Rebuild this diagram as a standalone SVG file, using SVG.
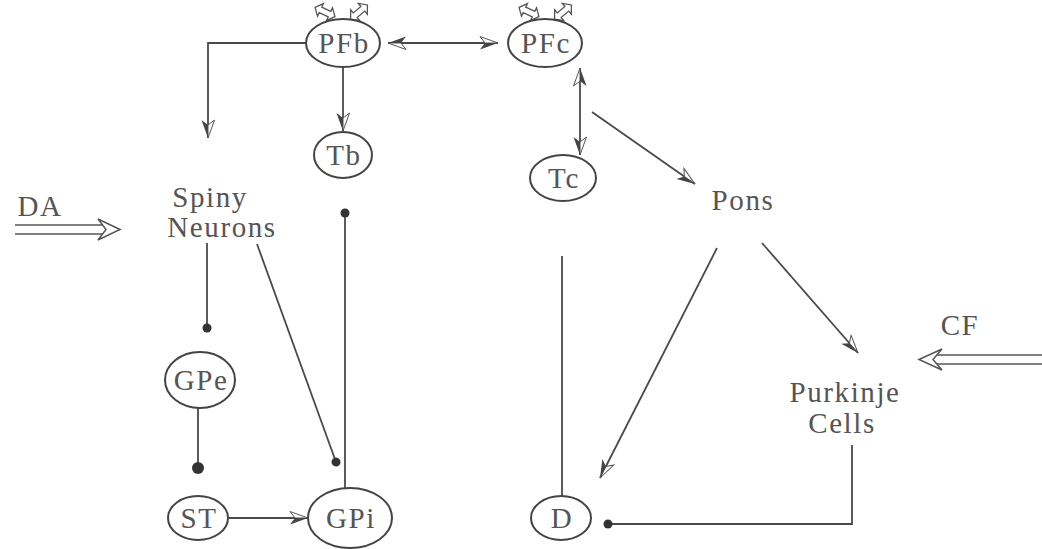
<svg xmlns="http://www.w3.org/2000/svg" width="1042" height="549" viewBox="0 0 1042 549">
<style>
.n{fill:none;stroke:#444;stroke-width:2}
.t{font-family:"Liberation Serif",serif;font-size:29px;letter-spacing:1.6px;fill:#555;text-anchor:middle}
.c{fill:none;stroke:#4a4a4a;stroke-width:1.8}
.a{marker-end:url(#ah)}
.ab{marker-end:url(#ah);marker-start:url(#ahs)}
.d{marker-end:url(#dot)}
.ic{fill:#fff;stroke:#555;stroke-width:1.3}
.dbl{fill:none;stroke:#555;stroke-width:1.6}
</style>
<defs>
<marker id="ah" viewBox="0 0 20 14" refX="19" refY="7" markerWidth="20" markerHeight="14" markerUnits="userSpaceOnUse" orient="auto">
<path d="M19,7 L1,0.5 L6,7 Z" fill="#fff" stroke="#555" stroke-width="1"/>
<path d="M19,7 L6,7 L1,13.5 Z" fill="#444"/>
</marker>
<marker id="ahs" viewBox="0 0 20 14" refX="19" refY="7" markerWidth="20" markerHeight="14" markerUnits="userSpaceOnUse" orient="auto-start-reverse">
<path d="M19,7 L1,0.5 L6,7 Z" fill="#fff" stroke="#555" stroke-width="1"/>
<path d="M19,7 L6,7 L1,13.5 Z" fill="#444"/>
</marker>
<marker id="dot" viewBox="0 0 12 10" refX="6" refY="5" markerWidth="12" markerHeight="10" markerUnits="userSpaceOnUse" orient="auto">
<ellipse cx="6" cy="5" rx="4.5" ry="4.5" fill="#333"/>
</marker>
<marker id="dotL" viewBox="0 0 14 14" refX="7" refY="7" markerWidth="14" markerHeight="14" markerUnits="userSpaceOnUse" orient="auto">
<circle cx="7" cy="7" r="6" fill="#333"/>
</marker>
<polygon id="dh" points="-11,0 -5,-7 -5,-3 5,-3 5,-7 11,0 5,7 5,3 -5,3 -5,7"/>
</defs>

<g id="connectors">
<line class="c ab" x1="388" y1="43" x2="498" y2="43"/>
<polyline class="c a" points="307,43 208,43 208,138"/>
<line class="c a" x1="343" y1="67" x2="343" y2="131"/>
<line class="c ab" x1="580" y1="68" x2="580" y2="155"/>
<line class="c a" x1="592" y1="112" x2="695" y2="184"/>
<line class="c d" x1="207" y1="243" x2="207" y2="328"/>
<line class="c d" x1="257" y1="244" x2="336" y2="462"/>
<line class="c d" x1="345" y1="488" x2="345" y2="213"/>
<line class="c" x1="198" y1="408" x2="198" y2="468" marker-end="url(#dotL)"/>
<line class="c a" x1="228" y1="518" x2="308" y2="518"/>
<line class="c" x1="562" y1="256" x2="562" y2="496"/>
<line class="c a" x1="717" y1="248" x2="600" y2="478"/>
<line class="c a" x1="762" y1="243" x2="858" y2="353"/>
<polyline class="c d" points="852,445 852,524 608,524"/>
<g id="DA-arrow">
<line class="dbl" x1="15" y1="225" x2="110" y2="225"/>
<line class="dbl" x1="15" y1="234" x2="110" y2="234"/>
<path d="M120,229.5 L98,219 L106,229.5 L98,240 Z" fill="#fff" stroke="#555" stroke-width="1.5"/>
</g>
<g id="CF-arrow">
<line class="dbl" x1="1042" y1="355" x2="930" y2="355"/>
<line class="dbl" x1="1042" y1="364" x2="930" y2="364"/>
<path d="M919,359.5 L942,349 L933,359.5 L942,370 Z" fill="#fff" stroke="#555" stroke-width="1.5"/>
</g>
</g>

<g id="PFb">
<use href="#dh" class="ic" transform="translate(325,12) rotate(25)"/>
<use href="#dh" class="ic" transform="translate(359,12) rotate(-40)"/>
<ellipse class="n" cx="343" cy="43" rx="37" ry="24"/>
<text class="t" x="344" y="53">PFb</text>
</g>
<g id="PFc">
<use href="#dh" class="ic" transform="translate(529,12) rotate(25)"/>
<use href="#dh" class="ic" transform="translate(563,12) rotate(-40)"/>
<ellipse class="n" cx="545" cy="43" rx="37" ry="24"/>
<text class="t" x="546" y="53">PFc</text>
</g>
<g id="Tb">
<ellipse class="n" cx="343" cy="155" rx="29" ry="23"/>
<text class="t" x="344" y="165">Tb</text>
</g>
<g id="Tc">
<ellipse class="n" cx="563" cy="178" rx="33" ry="23"/>
<text class="t" x="564" y="188">Tc</text>
</g>
<g id="DA"><text class="t" x="40" y="216">DA</text></g>
<g id="SpinyNeurons">
<text class="t" x="210" y="207">Spiny</text>
<text class="t" x="222" y="237">Neurons</text>
</g>
<g id="Pons"><text class="t" x="743" y="210">Pons</text></g>
<g id="GPe">
<ellipse class="n" cx="200" cy="380" rx="35" ry="28"/>
<text class="t" x="201" y="390">GPe</text>
</g>
<g id="ST">
<ellipse class="n" cx="198" cy="518" rx="30" ry="22"/>
<text class="t" x="199" y="528">ST</text>
</g>
<g id="GPi">
<ellipse class="n" cx="350" cy="518" rx="42" ry="30"/>
<text class="t" x="351" y="528">GPi</text>
</g>
<g id="D">
<ellipse class="n" cx="561" cy="518" rx="30" ry="22"/>
<text class="t" x="562" y="528">D</text>
</g>
<g id="CF"><text class="t" x="960" y="335">CF</text></g>
<g id="Purkinje">
<text class="t" x="845" y="402">Purkinje</text>
<text class="t" x="842" y="433">Cells</text>
</g>
</svg>
